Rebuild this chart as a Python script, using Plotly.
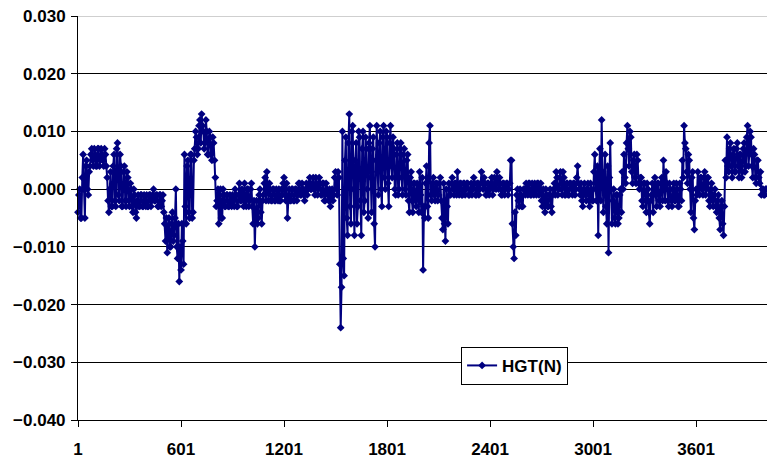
import plotly.graph_objects as go

sample_index = list(range(1, 4012, 5))

hgt_thousandths = [
    -4, -1, 0, -5, -5, 2, 6, 0, -5, 4, 5, 0, -1, 3, 4, 6, 7, 5, 4, 7,            # 1-96
    6, 4, 4, 7, 7, 4, 5, 7, 6, 5, 4, 7, 6, 4, 2, -2, -4, 0, 3, -3,               # 101-196
    -3, 4, 6, -2, -3, 7, 8, -1, -2, 6, 4, -3, -3, 3, 4, -2, -3, 3, 2, -2,        # 201-296
    -3, 1, 0, -3, -4, 0, -1, -4, -5, -2, -1, -3, -3, -1, -1, -3, -3, -1, -2, -3, # 301-396
    -1, -3, -3, -1, -1, -3, -2, -1, 0, -2, -2, -1, -1, -3, -3, -1, -1, -3, -2, -1,  # 401-496
    -4, -6, -9, -5, -11, -7, -5, -10, -10, -6, -4, -9, -8, -5, 0, -10, -12, -6, -16, -10,  # 501-596
    -14, -6, -9, -13, 6, -3, -6, 4, 5, -4, -5, 6, 6, -5, -4, 5, 7, 10, 9, 6,     # 601-696
    7, 11, 12, 8, 13, 11, 10, 7, 8, 12, 10, 6, 6, 10, 9, 6, 5, 9, 8, 5,          # 701-796
    2, -3, -2, 0, -6, -1, 0, -5, -5, 0, -1, -3, -3, -1, -1, -3, -3, -1, -2, -3,  # 801-896
    -1, -2, -3, 0, -1, -3, -3, -1, 1, -2, -2, 0, -1, -3, 1, -2, -3, 0, 0, -3,    # 901-996
    -2, 0, 1, -3, -6, -2, -10, -4, -2, -6, -5, -1, 0, -4, -6, -2, -1, 1, 2, -2,  # 1001-1096
    3, 0, -2, 1, 0, -2, -2, 0, 0, -2, -2, 0, -1, -2, 0, -2, -2, 0, -1, 1,        # 1101-1196
    2, -1, -2, 1, -5, -2, 0, -2, -2, 0, 0, -2, -2, 0, 0, -2, -1, 1, 1, -1,       # 1201-1296
    -1, 1, 0, -1, -2, 0, 1, -1, 0, 1, 2, 0, 0, 1, 2, 0, -1, 2, 1, -1,            # 1301-1396
    0, 2, 1, -1, -1, 1, 1, -2, -2, 1, 0, -1, -2, 0, -3, -1, 0, -2, -1, 2,        # 1401-1496
    3, 0, -1, 3, 2, -13, -24, -17, 10, -12, -15, 5, 9, -5, -8, 8, 13, -3, -6, 10,  # 1501-1596
    11, 0, -8, 5, 8, -6, -3, 10, 9, -2, -8, 7, 10, -4, -2, 9, 7, 0, -5, 8,       # 1601-1696
    11, 2, -4, 7, 9, -6, -10, 5, 11, 3, -1, 8, 10, 0, -3, 9, 11, 2, 0, 10,       # 1701-1796
    9, 1, -3, 8, 11, 4, 2, 9, 7, 0, -1, 6, 8, -1, 0, 7, 8, 2, -1, 6,             # 1801-1896
    7, 0, -1, 5, 6, -2, -4, 2, 3, -2, -4, 1, 1, -2, -3, 1, 0, -4, 3, -1,         # 1901-1996
    -4, 2, -14, -3, -5, 1, 4, -3, -5, 8, 11, -1, -2, 1, 2, -1, -2, 1, 1, -2,     # 2001-2096
    -1, 1, 2, -2, -5, -7, 1, -6, -9, 0, -3, -6, 1, -1, -1, 1, 2, 0, -1, 1,       # 2101-2196
    1, -1, 3, 0, -1, 1, 1, -1, -1, 1, 1, -1, 0, 1, 1, -1, -1, 0, 1, -1,          # 2201-2296
    0, 2, 1, -1, -1, 1, 1, -1, 0, 1, 3, 1, 0, 2, 1, -1, -1, 1, 1, -1,            # 2301-2396
    0, 1, 2, -1, 0, 2, 1, 0, 3, 1, 0, 2, 1, -1, -1, 1, 1, -1, 0, 1,              # 2401-2496
    1, -1, 0, 1, 5, 5, -6, -10, -12, -4, -8, -1, 0, -2, -3, 0, -1, -3, -3, 0,    # 2501-2596
    0, -1, 1, 0, -1, 1, 1, -1, -1, 1, 0, -1, 1, 0, -1, 1, 1, -1, 0, 1,           # 2601-2696
    -2, -3, 0, -2, -4, 0, -1, -3, -3, -1, 0, -3, -4, -1, 0, 1, -1, 3, 2, -1,     # 2701-2796
    0, 2, 3, 0, -1, 3, 2, -1, -1, 1, 1, -1, -1, 1, 1, 0, -1, 1, 1, -1,           # 2801-2896
    0, 2, 4, 1, 0, -1, 1, -2, -3, 0, 1, -1, -2, 0, 1, -2, -3, 1, 0, -2,          # 2901-2996
    -2, 3, 6, 0, -2, 4, -8, 2, 7, -2, 12, 3, -4, 1, 6, -3, -6, 4, -11, 2,        # 3001-3096
    8, 0, -6, -2, 0, -5, -6, -1, -1, -6, -5, -1, 0, -4, 3, 0, 6, 2, 1, 8,        # 3101-3196
    11, 7, 4, 10, 9, 3, 1, 5, 6, 2, 1, 6, 5, 1, 0, 2, 2, -2, -3, 1,              # 3201-3296
    1, -2, -4, 1, 0, -4, -6, -2, -1, 1, -4, 0, 2, -1, -3, 1, 1, -2, -3, 1,       # 3301-3396
    2, -2, 5, 1, -2, 3, 1, -2, -3, 1, 0, -2, -3, 0, 1, -2, -2, 1, 0, -3,         # 3401-3496
    -3, 1, 0, -2, 5, 2, 11, 8, 7, 3, 1, 6, 5, 0, -4, 2, 3, -5, -7, -2,           # 3501-3596
    0, -1, 3, 0, -1, 2, 2, 0, -1, 2, 3, -1, 0, 2, 2, -2, -3, 0, 1, -2,           # 3601-3696
    -3, -1, 0, -3, -4, -2, -1, -5, -7, -3, -2, -6, -8, -3, 5, 2, 9, 4, 3, 7,     # 3701-3796
    8, 4, 2, 6, 7, 3, 3, 7, 8, 4, 2, 6, 6, 2, 3, 7, 8, 3, 4, 9,                  # 3801-3896
    11, 4, 6, 10, 9, 4, 2, 7, 6, 2, 1, 5, 5, 2, 1, 3, -1, 0, 0, -1,              # 3901-3996
    -1, 0, 0,                                                                    # 4001-4011
]
hgt_values = [v / 1000 for v in hgt_thousandths]

x_tick_values = [1, 601, 1201, 1801, 2401, 3001, 3601]
x_tick_labels = ["1", "601", "1201", "1801", "2401", "3001", "3601"]
y_tick_values = [-0.04, -0.03, -0.02, -0.01, 0.0, 0.01, 0.02, 0.03]

NAVY = "#000080"
FONT = dict(family="Liberation Sans, Arial, sans-serif", size=17, color="black", weight=700)

fig = go.Figure()
fig.add_trace(go.Scatter(
    x=sample_index,
    y=hgt_values,
    mode="lines+markers",
    name="HGT(N)",
    line=dict(color=NAVY, width=2),
    marker=dict(symbol="diamond", size=6, color=NAVY),
    cliponaxis=False,
))

fig.update_layout(
    width=767,
    height=460,
    margin=dict(l=78, r=0, t=16, b=40, autoexpand=False),
    paper_bgcolor="white",
    plot_bgcolor="white",
    font=FONT,
    showlegend=True,
    legend=dict(
        x=0.556, y=0.181, xanchor="left", yanchor="top",
        bgcolor="white", bordercolor="black", borderwidth=1,
        font=FONT, itemwidth=30,
    ),
    shapes=[dict(
        type="line", xref="paper", yref="y", x0=0, x1=1, y0=0.03, y1=0.03,
        line=dict(color="#a0a0a0", width=1), layer="above",
    )],
)

fig.update_xaxes(
    range=[1, 4014],
    automargin=False,
    tickmode="array",
    tickvals=x_tick_values,
    ticktext=x_tick_labels,
    showgrid=False,
    zeroline=False,
    showline=True,
    linecolor="black",
    linewidth=1,
    ticks="outside",
    ticklen=6,
    tickcolor="black",
    tickfont=FONT,
    ticklabelstandoff=8,
)

fig.update_yaxes(
    range=[-0.04, 0.03],
    automargin=False,
    tickmode="array",
    tickvals=y_tick_values,
    tickformat=".3f",
    showgrid=True,
    gridcolor="black",
    gridwidth=1,
    zeroline=False,
    showline=True,
    linecolor="black",
    linewidth=1,
    ticks="outside",
    ticklen=6,
    tickcolor="black",
    tickfont=FONT,
    ticklabelstandoff=2,
)

fig.write_html(
    "out.html",
    config={"displayModeBar": False},
    post_script="document.body.style.margin='0';document.body.style.overflow='hidden';",
)
